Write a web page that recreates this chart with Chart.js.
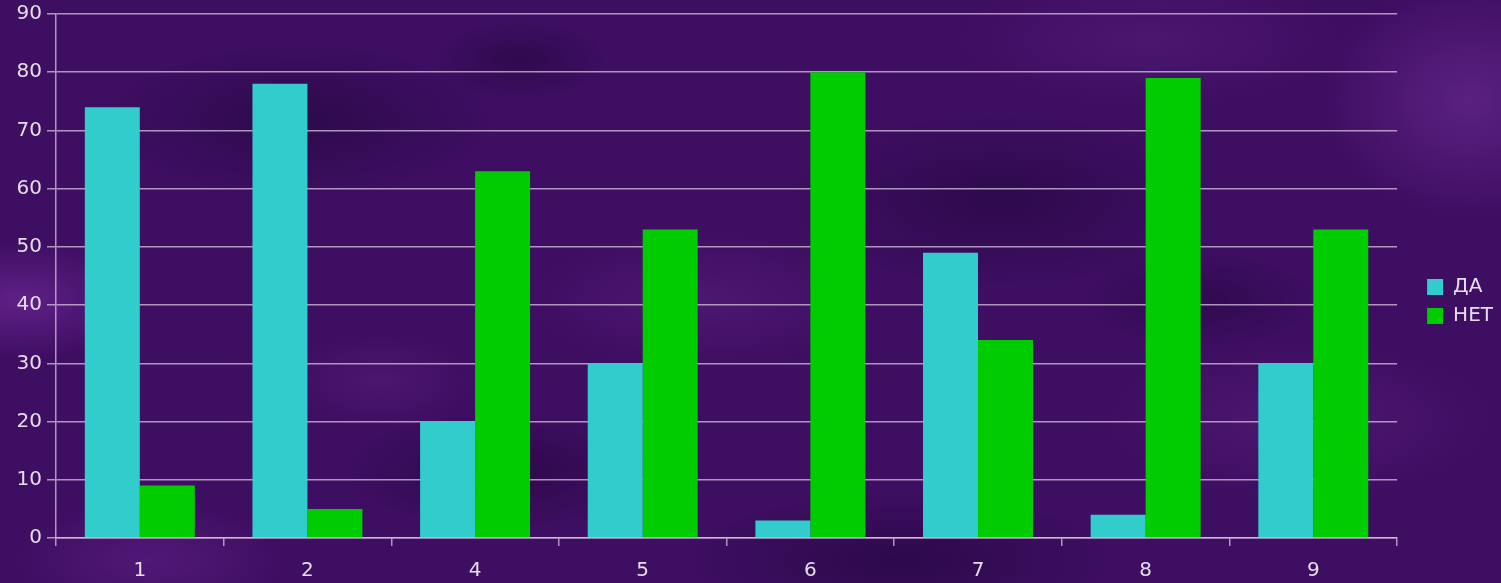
<!DOCTYPE html>
<html>
<head>
<meta charset="utf-8">
<script src="https://cdn.jsdelivr.net/npm/chart.js@4"></script>
<style>
  html, body {
    margin: 0;
    padding: 0;
    width: 1501px;
    height: 583px;
    overflow: hidden;
  }
  body {
    background-color: #3e0e62;
    background-image:
      radial-gradient(ellipse 120px 60px at 20px 300px, rgba(110, 40, 150, 0.7), transparent),
      radial-gradient(ellipse 200px 80px at 300px 120px, rgba(30, 5, 55, 0.5), transparent),
      radial-gradient(ellipse 90px 40px at 520px 60px, rgba(28, 4, 50, 0.45), transparent),
      radial-gradient(ellipse 180px 70px at 700px 300px, rgba(95, 35, 130, 0.45), transparent),
      radial-gradient(ellipse 220px 90px at 1000px 200px, rgba(30, 5, 55, 0.5), transparent),
      radial-gradient(ellipse 120px 50px at 1200px 300px, rgba(28, 4, 50, 0.4), transparent),
      radial-gradient(ellipse 200px 80px at 1300px 420px, rgba(95, 35, 130, 0.45), transparent),
      radial-gradient(ellipse 150px 120px at 1470px 100px, rgba(110, 45, 150, 0.6), transparent),
      radial-gradient(ellipse 160px 60px at 500px 470px, rgba(28, 4, 50, 0.5), transparent),
      radial-gradient(ellipse 100px 50px at 380px 380px, rgba(95, 35, 130, 0.4), transparent),
      radial-gradient(ellipse 220px 70px at 900px 560px, rgba(30, 5, 55, 0.55), transparent),
      radial-gradient(ellipse 140px 60px at 150px 560px, rgba(100, 35, 140, 0.5), transparent),
      radial-gradient(ellipse 200px 70px at 1150px 40px, rgba(95, 35, 130, 0.4), transparent);
  }
  #chart {
    position: absolute;
    left: 0;
    top: 0;
  }
</style>
</head>
<body>
<canvas id="chart" width="1501" height="583"></canvas>
<script>
// Data
const categories = ["1", "2", "4", "5", "6", "7", "8", "9"];
const yesValues = [74, 78, 20, 30, 3, 49, 4, 30];
const noValues = [9, 5, 63, 53, 80, 34, 79, 53];
const yTicks = [0, 10, 20, 30, 40, 50, 60, 70, 80, 90];

const textColor = "#e4dde8";
const gridColor = "rgba(215, 195, 220, 0.75)";
const fontFamily = "'DejaVu Sans', Verdana, sans-serif";

// nudge the legend a bit right/down, like the original
const legendNudge = {
  id: "legendNudge",
  afterLayout(chart) {
    const lg = chart.legend;
    lg.left += 21;
    lg.right += 21;
    lg.top += 3;
    lg.bottom += 3;
  }
};

const ctx = document.getElementById("chart").getContext("2d");

new Chart(ctx, {
  type: "bar",
  data: {
    labels: categories,
    datasets: [
      { label: "ДА", data: yesValues, backgroundColor: "#33CCCC" },
      { label: "НЕТ", data: noValues, backgroundColor: "#00CC00" },
    ]
  },
  plugins: [legendNudge],
  options: {
    responsive: false,
    animation: false,
    layout: { padding: { top: 14, right: 19, bottom: 0, left: 0 } },
    datasets: {
      bar: { barPercentage: 1.0, categoryPercentage: 0.656 }
    },
    plugins: {
      legend: {
        position: "right",
        labels: {
          color: textColor,
          font: { family: fontFamily, size: 20 },
          boxWidth: 16,
          boxHeight: 16,
          padding: 9,
        }
      },
      tooltip: { enabled: false }
    },
    scales: {
      x: {
        offset: true,
        afterFit: axis => {
          axis.height = 45;
        },
        grid: {
          offset: true,
          drawOnChartArea: false,
          color: gridColor,
          tickLength: 8,
          lineWidth: 1.5,
        },
        border: { color: gridColor, width: 1.5 },
        ticks: {
          color: textColor,
          font: { family: fontFamily, size: 20 },
          padding: 13,
          maxRotation: 0,
        }
      },
      y: {
        min: 0,
        max: 90,
        afterBuildTicks: axis => {
          axis.ticks = yTicks.map(v => ({ value: v }));
        },
        afterFit: axis => {
          axis.width = 56;
          axis.paddingTop = 0;
          axis.paddingBottom = 0;
        },
        grid: {
          color: gridColor,
          tickLength: 9,
          lineWidth: 1.5,
        },
        border: { color: gridColor, width: 1.5 },
        ticks: {
          color: textColor,
          font: { family: fontFamily, size: 20 },
          padding: 5,
        }
      }
    }
  }
});
</script>
</body>
</html>
